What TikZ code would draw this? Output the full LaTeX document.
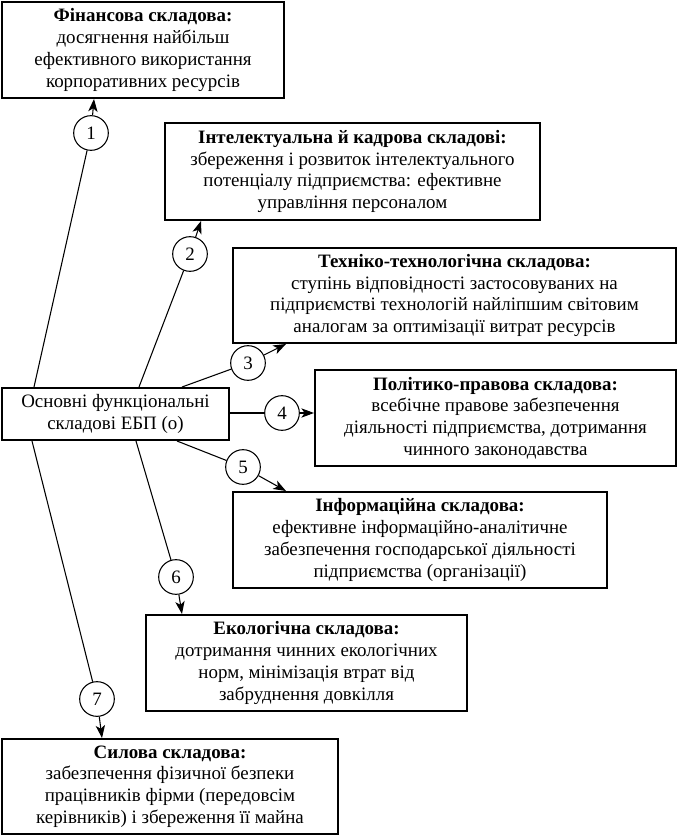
\documentclass[tikz,border=0pt]{standalone}
\usepackage{fontspec}
\setmainfont{Liberation Serif}
\usetikzlibrary{arrows.meta,calc}
\tikzset{
  box/.style={draw,line width=1.5pt,align=center,inner sep=0pt,font=\fontsize{14.2}{16.3}\selectfont},
  numc/.style={draw,circle,line width=0.8pt,minimum size=26pt,inner sep=0pt,font=\fontsize{14.2}{16}\selectfont},
  link/.style={line width=0.8pt},
  arr/.style={line width=0.8pt,-{Stealth[length=9.5pt,width=7pt,inset=2.5pt]}}
}
\begin{document}
\begin{tikzpicture}[x=0.75pt,y=-0.75pt]
\useasboundingbox (0,0) rectangle (679,837);
\node[box,minimum width=282*0.75pt,minimum height=96*0.75pt] (fin) at (143,50)
  {\textbf{Фінансова складова:}\\досягнення найбільш\\ефективного використання\\корпоративних ресурсів};
\node[box,minimum width=375*0.75pt,minimum height=97*0.75pt] (int) at (352.5,171.5)
  {\textbf{Інтелектуальна й кадрова складові:}\\збереження і розвиток інтелектуального\\потенціалу підприємства: ефективне\\управління персоналом};
\node[box,minimum width=443*0.75pt,minimum height=95*0.75pt] (tech) at (454.5,295.5)
  {\textbf{Техніко-технологічна складова:}\\ступінь відповідності застосовуваних на\\підприємстві технологій найліпшим світовим\\аналогам за оптимізації витрат ресурсів};
\node[box,minimum width=361*0.75pt,minimum height=96*0.75pt] (pol) at (495.5,418)
  {\textbf{Політико-правова складова:}\\всебічне правове забезпечення\\діяльності підприємства, дотримання\\чинного законодавства};
\node[box,minimum width=374*0.75pt,minimum height=96*0.75pt] (inf) at (420,540)
  {\textbf{Інформаційна складова:}\\ефективне інформаційно-аналітичне\\забезпечення господарської діяльності\\підприємства (організації)};
\node[box,minimum width=321*0.75pt,minimum height=96*0.75pt] (eco) at (306.5,663)
  {\textbf{Екологічна складова:}\\дотримання чинних екологічних\\норм, мінімізація втрат від\\забруднення довкілля};
\node[box,minimum width=336*0.75pt,minimum height=95*0.75pt] (sil) at (170,786.5)
  {\textbf{Силова складова:}\\забезпечення фізичної безпеки\\працівників фірми (передовсім\\керівників) і збереження її майна};
\node[box,minimum width=227*0.75pt,minimum height=52*0.75pt] (ctr) at (115.5,414)
  {Основні функціональні\\складові ЕБП (о)};

\node[numc] (c1) at (91,133) {1};
\node[numc] (c2) at (190,254) {2};
\node[numc] (c3) at (248,363) {3};
\node[numc] (c4) at (282,413) {4};
\node[numc] (c5) at (243,467) {5};
\node[numc] (c6) at (176,577) {6};
\node[numc] (c7) at (97,699) {7};

\draw[link] ($(ctr.north west)+(33,0)$) -- (c1);
\draw[arr] (c1) -- ($(fin.south west)+(93,0)$);
\draw[link] ($(ctr.north west)+(138,0)$) -- (c2);
\draw[arr] (c2) -- ($(int.south west)+(37,0)$);
\draw[link] ($(ctr.north west)+(181,0)$) -- (c3);
\draw[arr] (c3) -- ($(tech.south west)+(54,0)$);
\draw[link] (ctr.east |- c4) -- (c4);
\draw[arr] (c4) -- (c4 -| pol.west);
\draw[link] ($(ctr.south west)+(176,0)$) -- (c5);
\draw[arr] (c5) -- ($(inf.north west)+(54,0)$);
\draw[link] ($(ctr.south west)+(135,0)$) -- (c6);
\draw[arr] (c6) -- ($(eco.north west)+(37,0)$);
\draw[link] ($(ctr.south west)+(31,0)$) -- (c7);
\draw[arr] (c7) -- ($(sil.north west)+(101,0)$);
\end{tikzpicture}
\end{document}
